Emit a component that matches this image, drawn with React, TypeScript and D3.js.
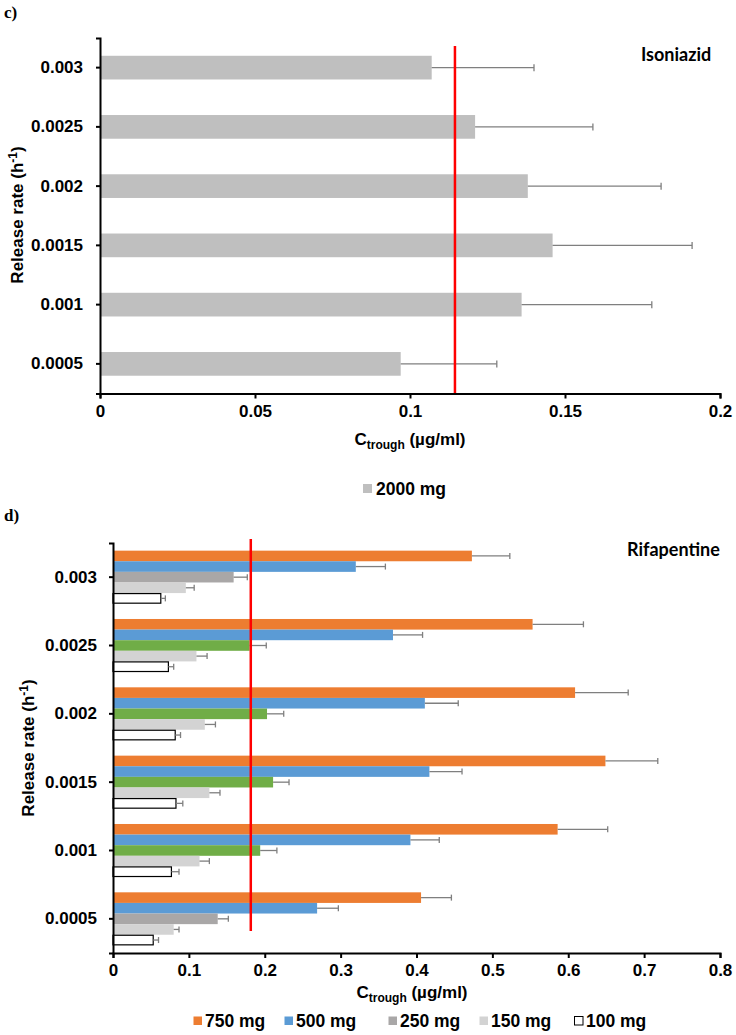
import React, { useEffect, useRef } from "react";
import * as d3 from "d3";

// release-rate categories, top to bottom
const rates = ["0.003", "0.0025", "0.002", "0.0015", "0.001", "0.0005"];

// panel c: isoniazid 2000 mg
const isoMean = [0.107, 0.121, 0.138, 0.146, 0.136, 0.097];
const isoErr = [0.033, 0.038, 0.043, 0.045, 0.042, 0.031];
const isoTarget = 0.1145;
const isoTicks = [0, 0.05, 0.1, 0.15, 0.2];

// panel d: rifapentine doses
const doses = ["750 mg", "500 mg", "250 mg", "150 mg", "100 mg"];
const rif750 = [0.473, 0.553, 0.609, 0.649, 0.586, 0.406];
const rif750Err = [0.05, 0.067, 0.07, 0.069, 0.066, 0.04];
const rif500 = [0.32, 0.369, 0.411, 0.417, 0.392, 0.269];
const rif500Err = [0.039, 0.039, 0.044, 0.043, 0.038, 0.028];
const rif250 = [0.159, 0.18, 0.203, 0.211, 0.194, 0.138];
const rif250Err = [0.018, 0.022, 0.022, 0.021, 0.022, 0.014];
const rif150 = [0.096, 0.11, 0.121, 0.127, 0.114, 0.08];
const rif150Err = [0.011, 0.014, 0.014, 0.014, 0.013, 0.007];
const rif100 = [0.063, 0.073, 0.082, 0.083, 0.077, 0.053];
const rif100Err = [0.006, 0.007, 0.007, 0.009, 0.01, 0.007];
const rifTarget = 0.1816;
const rifTicks = [0, 0.1, 0.2, 0.3, 0.4, 0.5, 0.6, 0.7, 0.8];

const ORANGE = "#ED7D31";
const BLUE = "#5B9BD5";
const GREY = "#A9A7A7";
const GREEN = "#70AD47";
const LIGHT = "#D3D3D3";
const ISO = "#BFBFBF";
const ERR = "#7F7F7F";
// the 250 mg bars change colour between rates in the original figure
const rif250Colors = [GREY, GREEN, GREEN, GREEN, GREEN, GREY];

const FONT = "'Liberation Sans', Arial, sans-serif";

export default function App() {
  const ref = useRef<SVGSVGElement>(null);

  useEffect(() => {
    const svg = d3.select(ref.current);
    svg.selectAll("*").remove();

    const styleAxis = (g: any) => {
      g.selectAll("path").attr("stroke", "#000").attr("stroke-width", 2);
      g.selectAll("line").attr("stroke", "#000").attr("stroke-width", 2);
      g.selectAll("text")
        .attr("font-family", FONT)
        .attr("font-weight", "bold")
        .attr("font-size", 17)
        .attr("fill", "#000");
    };

    const errorBar = (g: any, x0: number, x1: number, y: number, cap: number) => {
      g.append("line").attr("x1", x0).attr("x2", x1).attr("y1", y).attr("y2", y)
        .attr("stroke", ERR).attr("stroke-width", 1.3);
      g.append("line").attr("x1", x1).attr("x2", x1).attr("y1", y - cap).attr("y2", y + cap)
        .attr("stroke", ERR).attr("stroke-width", 1.3);
    };

    // ---------- panel c ----------
    const c = svg.append("g");
    const x1 = d3.scaleLinear().domain([0, 0.2]).range([100, 720]);
    const y1 = d3.scaleBand().domain(rates).range([38, 393.5]).paddingInner(0.6).paddingOuter(0.3);

    rates.forEach((r, i) => {
      c.append("rect").attr("x", x1(0)).attr("y", y1(r)!)
        .attr("width", x1(isoMean[i]) - x1(0)).attr("height", y1.bandwidth()).attr("fill", ISO);
      errorBar(c, x1(isoMean[i]), x1(isoMean[i] + isoErr[i]), y1(r)! + y1.bandwidth() / 2, 3.5);
    });

    c.append("line").attr("x1", x1(isoTarget)).attr("x2", x1(isoTarget))
      .attr("y1", 46).attr("y2", 393).attr("stroke", "#FF0000").attr("stroke-width", 2.5);

    c.append("g").attr("transform", "translate(0,393.5)")
      .call(d3.axisBottom(x1).tickValues(isoTicks).tickFormat((d: any) => String(d)).tickSize(5).tickSizeOuter(5).tickPadding(6))
      .call(styleAxis);
    c.append("g").attr("transform", "translate(100,0)")
      .call(d3.axisLeft(y1).tickSize(4).tickSizeOuter(4).tickPadding(13))
      .call(styleAxis);

    // ---------- panel d ----------
    const d = svg.append("g");
    const x2 = d3.scaleLinear().domain([0, 0.8]).range([113, 720]);
    const y2 = d3.scaleBand().domain(rates).range([543, 953]).paddingInner(0.224).paddingOuter(0.112);
    const inner = d3.scaleBand().domain(doses).range([0, y2.bandwidth()]);
    const means = [rif750, rif500, rif250, rif150, rif100];
    const errs = [rif750Err, rif500Err, rif250Err, rif150Err, rif100Err];

    rates.forEach((r, i) => {
      doses.forEach((dose, j) => {
        const fill = [ORANGE, BLUE, rif250Colors[i], LIGHT, "#FFFFFF"][j];
        const yy = y2(r)! + inner(dose)!;
        const bh = inner.bandwidth();
        const rect = d.append("rect").attr("x", x2(0)).attr("width", x2(means[j][i]) - x2(0))
          .attr("fill", fill);
        if (j === 4) {
          rect.attr("y", yy + 0.5).attr("height", bh - 1).attr("stroke", "#000").attr("stroke-width", 1.2);
        } else {
          rect.attr("y", yy).attr("height", bh);
        }
        errorBar(d, x2(means[j][i]), x2(means[j][i] + errs[j][i]), yy + bh / 2, 3);
      });
    });

    d.append("line").attr("x1", x2(rifTarget)).attr("x2", x2(rifTarget))
      .attr("y1", 539).attr("y2", 931).attr("stroke", "#FF0000").attr("stroke-width", 2.5);

    d.append("g").attr("transform", "translate(0,953)")
      .call(d3.axisBottom(x2).tickValues(rifTicks).tickFormat((v: any) => String(v)).tickSize(5).tickSizeOuter(5).tickPadding(6))
      .call(styleAxis);
    d.append("g").attr("transform", "translate(113,0)")
      .call(d3.axisLeft(y2).tickSize(4).tickSizeOuter(4).tickPadding(12))
      .call(styleAxis);
  }, []);

  const bold = { fontFamily: FONT, fontWeight: "bold" as const, fontSize: 17, fill: "#000" };
  const legendStyle = { ...bold, fontSize: 17.5 };
  const xTitle = (cx: number, y: number) => (
    <text x={cx} y={y} textAnchor="middle" style={bold}>
      C<tspan fontSize={12} dy={4}>trough</tspan>
      <tspan dy={-4}> (µg/ml)</tspan>
    </text>
  );
  const yTitle = (x: number, cy: number) => (
    <text transform={`translate(${x},${cy}) rotate(-90)`} textAnchor="middle" style={bold}>
      Release rate (h<tspan fontSize={12} dy={-6}>-1</tspan>
      <tspan dy={6}>)</tspan>
    </text>
  );
  const legendColors = [ORANGE, BLUE, GREY, LIGHT, "#FFFFFF"];
  const legendX = [193, 284, 388, 479, 574];

  return (
    <svg width={736} height={1035} style={{ position: "absolute", left: 0, top: 0, background: "#fff" }}>
      <g ref={ref as any} />
      <text x={4} y={18} fontFamily="'Liberation Serif', 'Times New Roman', serif" fontWeight="bold" fontSize={17}>c)</text>
      <text x={4} y={521} fontFamily="'Liberation Serif', 'Times New Roman', serif" fontWeight="bold" fontSize={17}>d)</text>
      <text x={641} y={61} fontFamily="Lato, 'Open Sans', sans-serif" fontWeight="bold" fontSize={18}>Isoniazid</text>
      <text x={627} y={556} fontFamily="Lato, 'Open Sans', sans-serif" fontWeight="bold" fontSize={18}>Rifapentine</text>
      {xTitle(410, 445)}
      {xTitle(412, 998)}
      {yTitle(23, 215)}
      {yTitle(34, 748)}
      <rect x={363} y={484} width={9} height={9} fill={ISO} />
      <text x={376} y={494.5} style={legendStyle}>2000 mg</text>
      {doses.map((dose, i) => (
        <g key={dose}>
          <rect x={legendX[i] + 0.5} y={1016.5} width={8.5} height={8.5} fill={legendColors[i]}
            stroke={i === 4 ? "#000" : "none"} strokeWidth={1} />
          <text x={legendX[i] + 12} y={1026.5} style={legendStyle}>{dose}</text>
        </g>
      ))}
    </svg>
  );
}
